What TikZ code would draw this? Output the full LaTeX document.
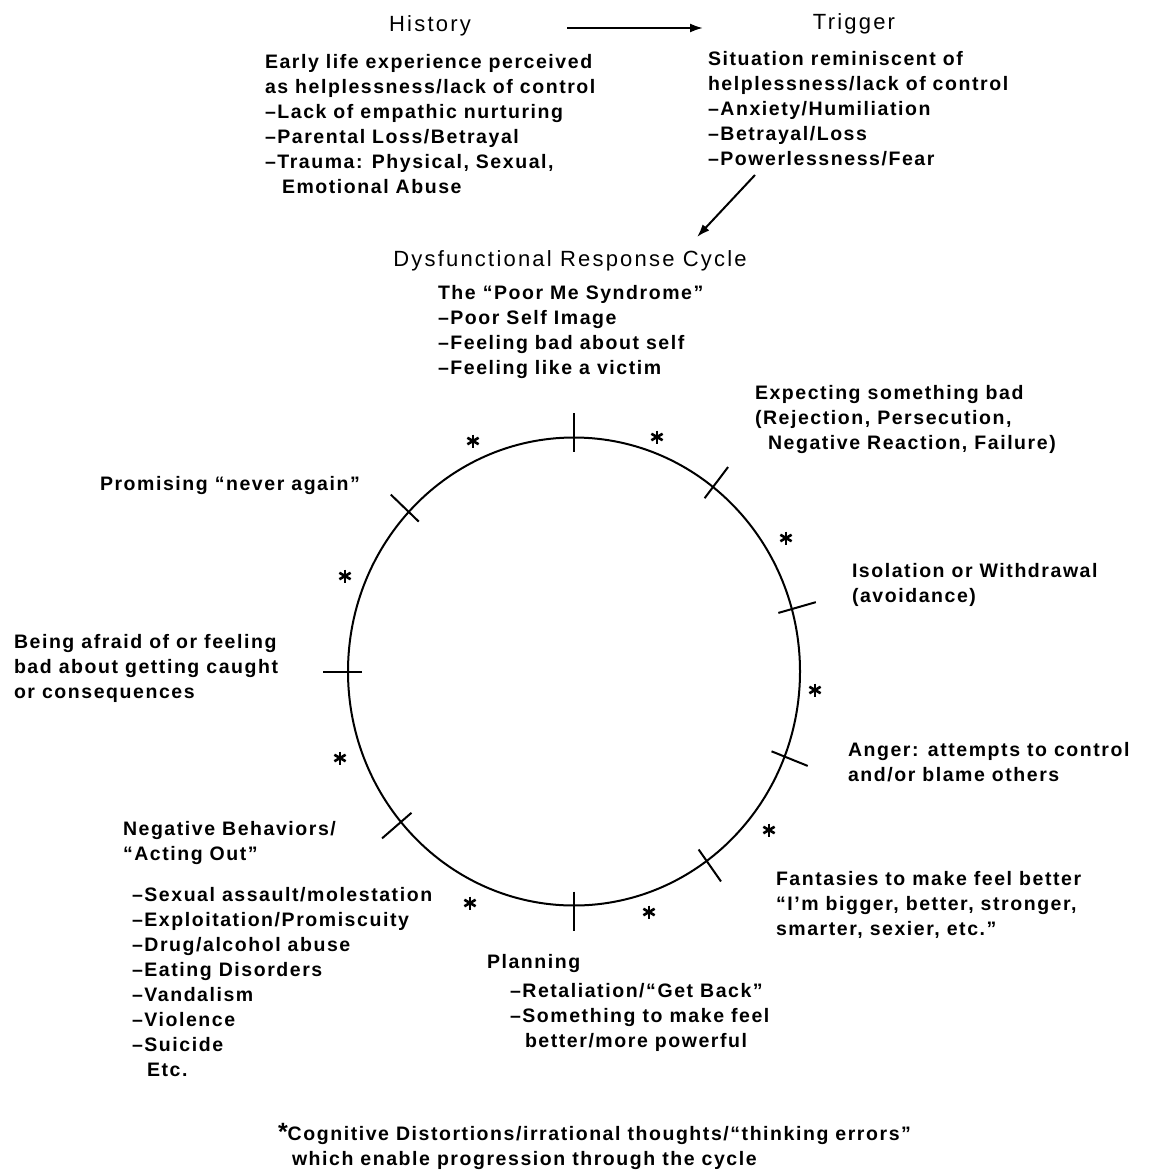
\documentclass[tikz,border=0pt]{standalone}
\usepackage{fontspec}
\setmainfont{Liberation Sans}
\newfontfamily\bodyfam{Liberation Sans}[LetterSpace=8]
\newfontfamily\titlefam{Liberation Sans}[LetterSpace=10]
\usetikzlibrary{arrows.meta,shapes.geometric,calc}
\newcommand\fl{\rule{0pt}{18pt}}
\tikzset{
  body/.style={anchor=north west, inner sep=0pt, outer sep=0pt, align=left,
    font=\bodyfam\bfseries\fontsize{19.5}{25}\selectfont},
  ttl/.style={anchor=base, inner sep=0pt, outer sep=0pt,
    font=\titlefam\fontsize{22}{25}\selectfont},
  arr/.style={line width=2pt, -{Latex[length=13pt,width=9pt]}},
  cyctick/.style={line width=2pt},
  ast/.style={inner sep=0pt, outer sep=0pt, minimum size=17pt,
    path picture={
      \foreach \ang in {90,30,150}
        \draw[line width=2.6pt] ([shift={(\ang:6.5pt)}]path picture bounding box.center)
          -- ([shift={(\ang+180:6.5pt)}]path picture bounding box.center);
    }},
}
\begin{document}
\begin{tikzpicture}[x=1pt,y=-1pt]
\fill[white] (0,0) rectangle (1151,1175);
\useasboundingbox (0,0) rectangle (1151,1175);

% top titles and arrow
\node[ttl] (hist) at (430,31) {History};
\node[ttl] (trig) at (854,29) {Trigger};
\coordinate (a1s) at (567,28);
\coordinate (a1e) at (703,28);
\draw[arr] (a1s) -- (a1e);

\node[body] (histbody) at (265,50) {\fl Early life experience perceived\\as helplessness/lack of control\\–Lack of empathic nurturing\\–Parental Loss/Betrayal\\–Trauma: Physical, Sexual,\\\hspace*{17pt}Emotional Abuse};
\node[body] (trigbody) at (708,47) {\fl Situation reminiscent of\\helplessness/lack of control\\–Anxiety/Humiliation\\–Betrayal/Loss\\–Powerlessness/Fear};

\coordinate (a2s) at (755,175);
\coordinate (a2e) at (697,237);
\draw[arr] (a2s) -- (a2e);

\node[ttl] (cyctitle) at (570,266) {Dysfunctional Response Cycle};
\node[body] (poorme) at (438,281) {\fl The “Poor Me Syndrome”\\–Poor Self Image\\–Feeling bad about self\\–Feeling like a victim};

% cycle
\node[draw, ellipse, line width=2pt, minimum width=452pt, minimum height=468pt, inner sep=0pt, outer sep=0pt] (cyc) at (574,671.5) {};
\foreach \ang in {90,53,16,338,305,270,221,180,136}
  \draw[cyctick] ($(cyc.\ang)!14pt!(cyc.center)$) -- ($(cyc.\ang)!-25pt!(cyc.center)$);

% asterisks
\node[ast] (s1) at (473,441) {};
\node[ast] (s2) at (657,437) {};
\node[ast] (s3) at (786,538) {};
\node[ast] (s4) at (815,690) {};
\node[ast] (s5) at (769,830) {};
\node[ast] (s6) at (649,912) {};
\node[ast] (s7) at (470,903) {};
\node[ast] (s8) at (340,758) {};
\node[ast] (s9) at (345,576) {};

% stage labels
\node[body] (expect) at (755,381) {\fl Expecting something bad\\(Rejection, Persecution,\\\hspace*{13pt}Negative Reaction, Failure)};
\node[body] (isol) at (852,559) {\fl Isolation or Withdrawal\\(avoidance)};
\node[body] (anger) at (848,738) {\fl Anger: attempts to control\\and/or blame others};
\node[body] (fant) at (776,867) {\fl Fantasies to make feel better\\“I’m bigger, better, stronger,\\smarter, sexier, etc.”};
\node[body] (promise) at (100,472) {\fl Promising “never again”};
\node[body] (afraid) at (14,630) {\fl Being afraid of or feeling\\bad about getting caught\\or consequences};
\node[body] (negbeh) at (123,817) {\fl Negative Behaviors/\\“Acting Out”};
\node[body] (neglist) at (132,883) {\fl –Sexual assault/molestation\\–Exploitation/Promiscuity\\–Drug/alcohol abuse\\–Eating Disorders\\–Vandalism\\–Violence\\–Suicide\\\hspace*{15pt}Etc.};
\node[body] (plan) at (487,950) {\fl Planning};
\node[body] (planlist) at (510,979) {\fl –Retaliation/“Get Back”\\–Something to make feel\\\hspace*{15pt}better/more powerful};

% footnote
\node[body] (foot) at (278,1122) {\fl {\fontsize{25}{25}\selectfont *}Cognitive Distortions/irrational thoughts/“thinking errors”\\\hspace*{14pt}which enable progression through the cycle};
\end{tikzpicture}
\end{document}
